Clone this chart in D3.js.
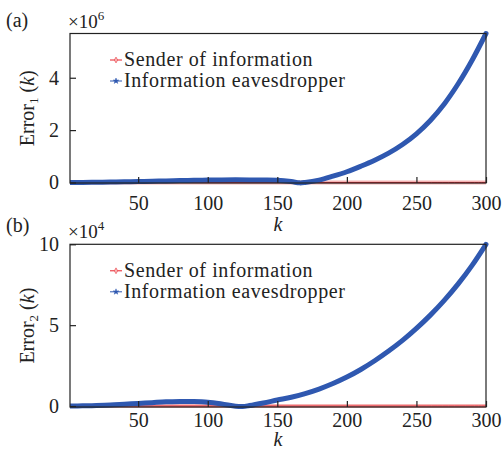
<!DOCTYPE html>
<html>
<head>
<meta charset="utf-8">
<script src="https://cdn.jsdelivr.net/npm/d3@7"></script>
<style>
  html, body { margin: 0; padding: 0; background: #fff; }
  svg, svg text { font-family: "Liberation Serif", "Times New Roman", serif; }
</style>
</head>
<body>
<svg id="chart" width="502" height="453"></svg>
<script>
// Iteration index k
const kTicks = [50, 100, 150, 200, 250, 300];

// Panel (a): Error_1(k), values in units of 10^6
const kA = [1, 10, 20, 30, 40, 50, 60, 70, 80, 90, 100, 110, 120, 130, 140, 150, 160, 166, 170, 180,
            190, 200, 210, 220, 230, 240, 250, 260, 270, 280, 290, 300];
const eavesA = [0, 0.003, 0.008, 0.015, 0.025, 0.035, 0.047, 0.06, 0.072, 0.083, 0.092, 0.098, 0.1,
                0.099, 0.095, 0.085, 0.035, -0.015, 0.0, 0.09, 0.24, 0.41, 0.62, 0.85, 1.12, 1.45,
                1.86, 2.37, 3.0, 3.77, 4.67, 5.69];
const senderKA = [1, 50, 100, 150, 200, 250, 300];
const senderA = [0, 0, 0, 0, 0, 0, 0];
const yTicksA = [0, 2, 4];
const expA = 6;

// Panel (b): Error_2(k), values in units of 10^4
const kB = [1, 10, 20, 30, 40, 50, 60, 70, 80, 90, 100, 110, 120, 125, 130, 140, 150, 160, 170, 180,
            190, 200, 210, 220, 230, 240, 250, 260, 270, 280, 290, 300];
const eavesB = [0, 0.01, 0.03, 0.06, 0.11, 0.16, 0.21, 0.26, 0.28, 0.28, 0.24, 0.13, -0.01, -0.03,
                0.03, 0.19, 0.37, 0.54, 0.77, 1.05, 1.39, 1.79, 2.26, 2.8, 3.4, 4.06, 4.8, 5.62,
                6.53, 7.55, 8.7, 10.0];
const senderKB = [1, 50, 100, 150, 200, 250, 300];
const senderB = [0, 0, 0, 0, 0, 0, 0];
const yTicksB = [0, 5, 10];
const expB = 4;

const legendLabels = ["Sender of information", "Information eavesdropper"];
const panelTags = ["(a)", "(b)"];

const FONT = '"Liberation Serif", "Times New Roman", serif';
const svg = d3.select("#chart");
const left = 70, right = 486;
const x = d3.scaleLinear().domain([1, 300]).range([left, right]);

const BLUE = "#2f58b0";
const RED = "#e8202a";
const PINK = "#f6b4b4";
const AXIS = "#222";

const panels = [
  { tag: panelTags[0], top: 33.5, bottom: 183, yDomain: [-0.02, 5.69], yTicks: yTicksA, exp: expA,
    sub: "1", k: kA, eaves: eavesA, sk: senderKA, sender: senderA, tagY: 27, xLabY: 231, xPad: 13 },
  { tag: panelTags[1], top: 244.3, bottom: 407, yDomain: [-0.06, 10], yTicks: yTicksB, exp: expB,
    sub: "2", k: kB, eaves: eavesB, sk: senderKB, sender: senderB, tagY: 232, xLabY: 446, xPad: 6 }
];

panels.forEach(p => {
  const y = d3.scaleLinear().domain(p.yDomain).range([p.bottom, p.top]);
  const g = svg.append("g");

  // clip to plot area (with room for the line width at the edges)
  const clipId = "clip" + p.sub;
  svg.append("clipPath").attr("id", clipId)
    .append("rect").attr("x", left).attr("y", p.top - 3)
    .attr("width", right - left + 3).attr("height", p.bottom - p.top + 6);

  const line = d3.line().x(d => x(d[0])).y(d => y(d[1])).curve(d3.curveCatmullRom.alpha(0.5));

  const plot = g.append("g").attr("clip-path", `url(#${clipId})`);
  const senderPts = p.sk.map((k, i) => [k, p.sender[i]]);
  plot.append("path").attr("d", line(senderPts))
    .attr("fill", "none").attr("stroke", PINK).attr("stroke-width", 4);
  plot.append("path").attr("d", line(senderPts))
    .attr("fill", "none").attr("stroke", RED).attr("stroke-width", 1);

  const eavesPts = p.k.map((k, i) => [k, p.eaves[i]]);
  plot.append("path").attr("d", line(eavesPts))
    .attr("fill", "none").attr("stroke", BLUE).attr("stroke-width", 5)
    .attr("stroke-linecap", "round").attr("stroke-linejoin", "round");

  // box
  g.append("rect").attr("x", left).attr("y", p.top)
    .attr("width", right - left).attr("height", p.bottom - p.top)
    .attr("fill", "none").attr("stroke", AXIS).attr("stroke-width", 1.2);

  // x axis: inward ticks
  const xAxis = d3.axisBottom(x).tickValues(kTicks).tickSizeInner(-6).tickSizeOuter(0).tickPadding(p.xPad);
  const xa = g.append("g").attr("transform", `translate(0,${p.bottom})`).call(xAxis)
    .attr("font-family", FONT).attr("font-size", 20);
  xa.select(".domain").remove();
  xa.selectAll(".tick line").attr("stroke", AXIS).attr("stroke-width", 1.2);
  xa.selectAll(".tick text").attr("fill", "#222");

  // y axis: inward ticks
  const yAxis = d3.axisLeft(y).tickValues(p.yTicks).tickSizeInner(-6).tickSizeOuter(0).tickPadding(11)
    .tickFormat(d3.format("d"));
  const ya = g.append("g").attr("transform", `translate(${left},0)`).call(yAxis)
    .attr("font-family", FONT).attr("font-size", 20);
  ya.select(".domain").remove();
  ya.selectAll(".tick line").attr("stroke", AXIS).attr("stroke-width", 1.2);
  ya.selectAll(".tick text").attr("fill", "#222");

  // exponent label
  const ex = g.append("text").attr("x", 68).attr("y", p.top - 6)
    .attr("font-size", 19).attr("fill", "#222");
  ex.append("tspan").text("\u00d710");
  ex.append("tspan").attr("dy", -8).attr("font-size", 13).text(p.exp);

  // panel tag
  g.append("text").attr("x", 6).attr("y", p.tagY).attr("font-size", 20).attr("fill", "#222").text(p.tag);

  // y label
  const cy = (p.top + p.bottom) / 2;
  const yl = g.append("text").attr("transform", `translate(34,${cy}) rotate(-90)`)
    .attr("text-anchor", "middle").attr("font-size", 20).attr("fill", "#222");
  yl.append("tspan").text("Error");
  yl.append("tspan").attr("font-size", 13).attr("dy", 4).text(p.sub);
  yl.append("tspan").attr("dy", -4).text("\u00a0(");
  yl.append("tspan").attr("font-style", "italic").text("k");
  yl.append("tspan").text(")");

  // x label
  g.append("text").attr("x", (left + right) / 2).attr("y", p.xLabY)
    .attr("text-anchor", "middle").attr("font-size", 20).attr("font-style", "italic")
    .attr("fill", "#222").text("k");

  // legend
  const lg = g.append("g").attr("transform", `translate(110,${p.top + 26.5})`);
  [[RED, PINK], [BLUE, BLUE]].forEach((c, i) => {
    const row = lg.append("g").attr("transform", `translate(0,${i * 21})`);
    row.append("line").attr("x1", 0).attr("x2", 12).attr("y1", 0).attr("y2", 0)
      .attr("stroke", c[0]).attr("stroke-width", 1);
    row.append("path").attr("transform", "translate(6,0)")
      .attr("d", d3.symbol().type(i === 0 ? d3.symbolDiamond : d3.symbolStar).size(10)())
      .attr("fill", c[1]).attr("stroke", c[0]).attr("stroke-width", 0.5);
    row.append("text").attr("x", 14).attr("y", 6).attr("font-size", 20).attr("letter-spacing", 0.6)
      .attr("fill", "#222").text(legendLabels[i]);
  });
});
</script>
</body>
</html>
